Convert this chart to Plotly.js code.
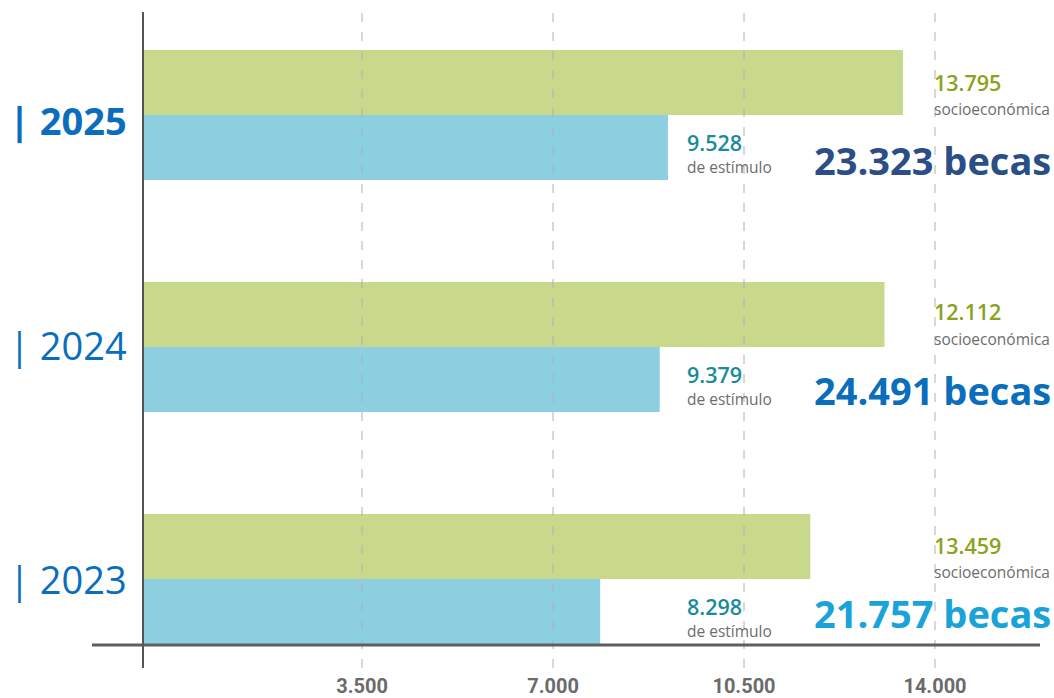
<!DOCTYPE html>
<html>
<head>
<meta charset="utf-8">
<script src="https://cdn.plot.ly/plotly-3.0.1.min.js"></script>
<style>html,body{margin:0;padding:0;background:#fff;}#chart{width:1054px;height:698px;}</style>
</head>
<body>
<div id="chart"></div>
<script>
// ---- data ----
var years = ['2023', '2024', '2025'];
var estimuloBar = [8298, 9379, 9528];        // blue bar lengths
var socioBar = [12112, 13459, 13795];        // green bar lengths
var estimuloLabel = ['8.298', '9.379', '9.528'];
var socioLabel = ['13.459', '12.112', '13.795'];
var totalLabel = ['21.757', '24.491', '23.323'];
var gridTicks = [3500, 7000, 10500, 14000];
var gridTickText = ['3.500', '7.000', '10.500', '14.000'];

var FONT = 'Open Sans, Noto Sans, sans-serif';

var traces = [
  {
    type: 'bar', orientation: 'h', name: 'de estímulo',
    y: years, x: estimuloBar,
    marker: {color: '#8ccfe0'}, hoverinfo: 'skip'
  },
  {
    type: 'bar', orientation: 'h', name: 'socioeconómica',
    y: years, x: socioBar,
    marker: {color: '#c8d98b'}, hoverinfo: 'skip'
  },
  // invisible trace so the second x axis (gridline scale) exists
  {
    type: 'scatter', mode: 'markers', x: [gridTicks[0]], y: [years[0]],
    xaxis: 'x2', marker: {opacity: 0}, hoverinfo: 'skip', showlegend: false
  }
];

var yearColors = ['#0a6ebd', '#0a6ebd', '#0a6ebd'];
var yearWeights = [400, 500, 700];
var yearShift = [0, 2, -5];
var greenShift = [33, 35, 32];
var socioShift = [7, 8, 6];
var totalColors = ['#1aa3d9', '#0a6ebd', '#2b4e86'];
var totalShift = [-34, -43, -45];

var annotations = [];
years.forEach(function (yr, i) {
  annotations.push({
    xref: 'paper', yref: 'y', x: -0.0897, y: i, xanchor: 'left', yanchor: 'middle',
    yshift: yearShift[i], showarrow: false, text: '| ' + yr,
    font: {family: FONT, size: 38, color: yearColors[i], weight: yearWeights[i]}
  });
  annotations.push({
    xref: 'paper', yref: 'y', x: 0.8871, y: i, xanchor: 'left', yanchor: 'middle',
    yshift: greenShift[i], showarrow: false, text: socioLabel[i], borderpad: 0,
    font: {family: FONT, size: 21.5, color: '#8aa31b', weight: 600}
  });
  annotations.push({
    xref: 'paper', yref: 'y', x: 0.8871, y: i, xanchor: 'left', yanchor: 'middle',
    yshift: socioShift[i], showarrow: false, text: 'socioeconómica', borderpad: 0,
    font: {family: FONT, size: 15.5, color: '#6d6d6d'}
  });
  annotations.push({
    xref: 'paper', yref: 'y', x: 0.6265, y: i, xanchor: 'left', yanchor: 'middle',
    yshift: -28, showarrow: false, text: estimuloLabel[i], borderpad: 0,
    font: {family: FONT, size: 21.5, color: '#178d9c', weight: 600}
  });
  annotations.push({
    xref: 'paper', yref: 'y', x: 0.6265, y: i, xanchor: 'left', yanchor: 'middle',
    yshift: -52, showarrow: false, text: 'de estímulo', borderpad: 0,
    font: {family: FONT, size: 15.5, color: '#6d6d6d'}
  });
  annotations.push({
    xref: 'paper', yref: 'y', x: 1.0137, y: i, xanchor: 'right', yanchor: 'middle',
    yshift: totalShift[i], showarrow: false, text: totalLabel[i] + ' becas',
    font: {family: FONT, size: 38, color: totalColors[i], weight: 700}
  });
});

var shapes = gridTicks.map(function (v) {
  return {
    type: 'line', xref: 'x2', yref: 'paper', x0: v, x1: v, y0: 0, y1: 1.003,
    line: {color: '#b0b0b0', width: 1, dash: '9px,10px'}, layer: 'above'
  };
});
shapes.push({
  type: 'line', xref: 'paper', yref: 'paper', x0: 0, x1: 1, y0: 0.0351, y1: 0.0351,
  line: {color: '#5f5f5f', width: 3}, layer: 'above'
});
shapes.push({
  type: 'line', xref: 'x', yref: 'paper', x0: 0, x1: 0, y0: 0, y1: 1,
  line: {color: '#555555', width: 2}, layer: 'above'
});

var layout = {
  width: 1054, height: 698,
  margin: {l: 92, r: 14, t: 12, b: 30},
  paper_bgcolor: '#ffffff', plot_bgcolor: '#ffffff',
  showlegend: false,
  barmode: 'group', bargap: 0.44, bargroupgap: 0,
  xaxis: {
    range: [-925.7, 16281], showgrid: false, zeroline: false,
    showticklabels: false, ticks: '', showline: false, fixedrange: true
  },
  xaxis2: {
    overlaying: 'x', anchor: 'y', side: 'bottom',
    range: [-1447.6, 15924], tickmode: 'array', tickvals: gridTicks, ticktext: gridTickText,
    showgrid: false, zeroline: false, showline: false, ticks: '',
    ticklabelstandoff: 4,
    tickfont: {family: 'Liberation Sans Narrow, Roboto, sans-serif', size: 20, color: '#6b6b6b', weight: 700}
  },
  yaxis: {
    type: 'category', categoryorder: 'array', categoryarray: years,
    range: [-0.384, 2.444], showgrid: false, zeroline: false,
    showticklabels: false, ticks: '', showline: false
  },
  annotations: annotations,
  shapes: shapes
};

Plotly.newPlot('chart', traces, layout, {displayModeBar: false, staticPlot: true});
</script>
</body>
</html>
